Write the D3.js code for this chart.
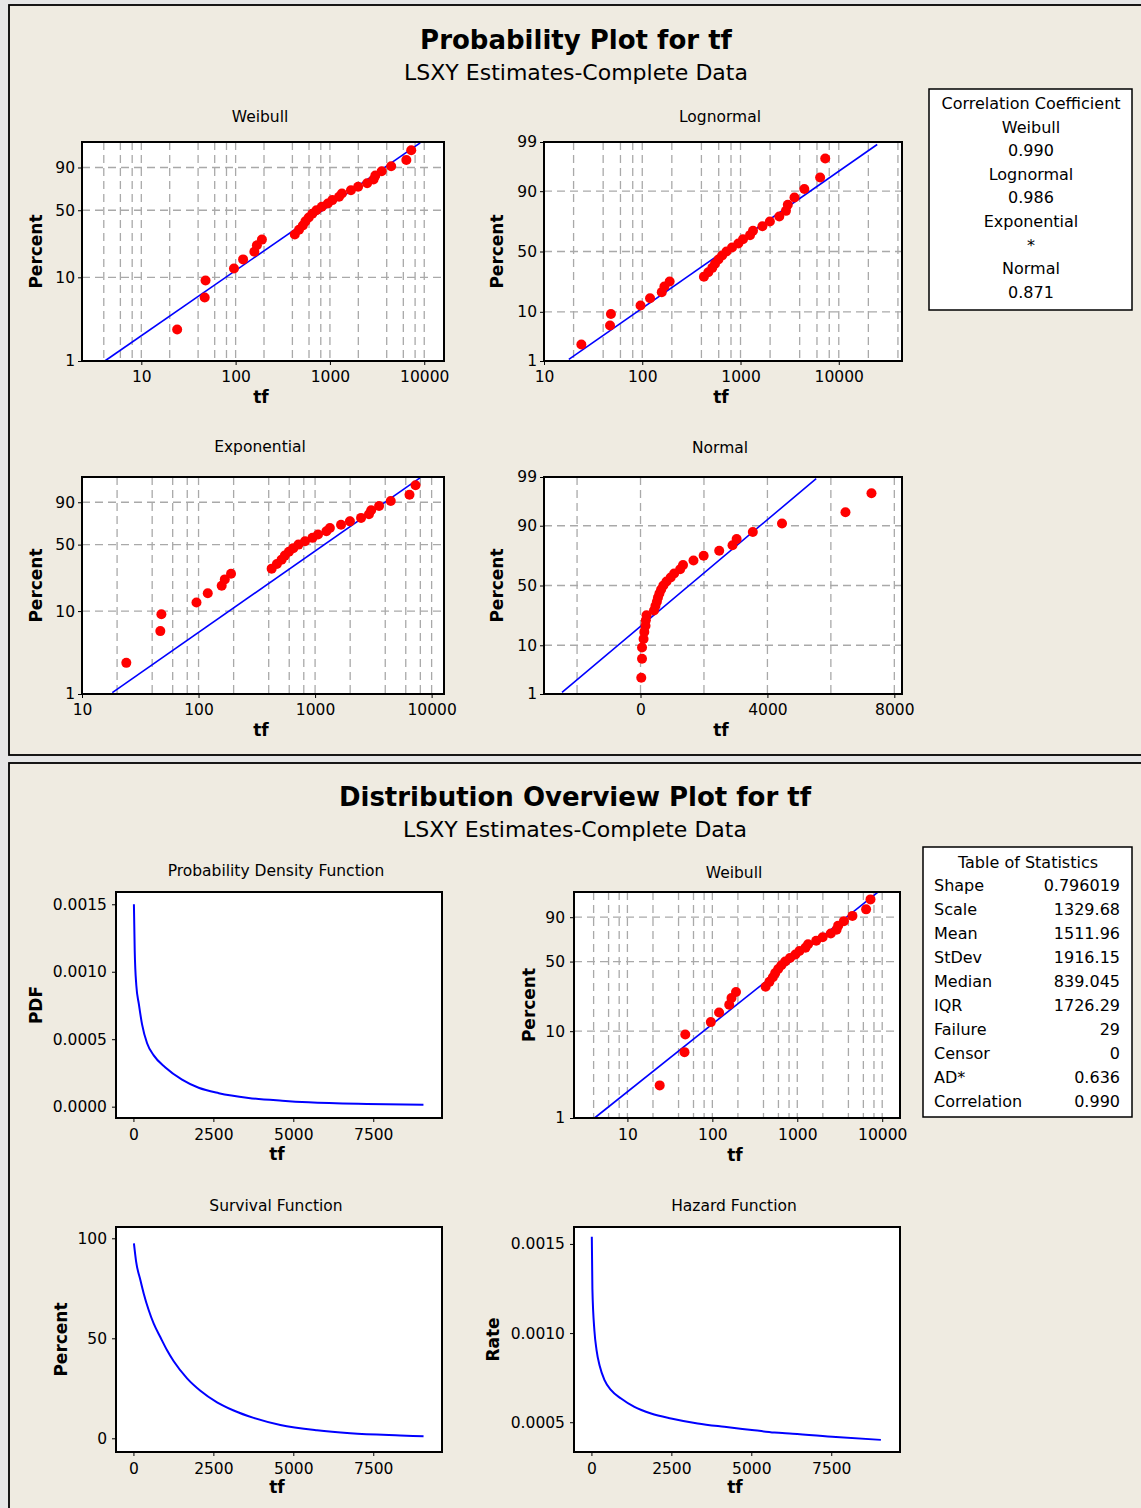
<!DOCTYPE html>
<html lang="en">
<head>
<meta charset="UTF-8">
<title>Probability Plot for tf</title>
<script src="https://d3js.org/d3.v7.min.js"></script>
<style>
  body { margin: 0; background: #e6e6e6; }
  svg text { font-family: "DejaVu Sans", Verdana, sans-serif; fill: #000; }
  .panel { fill: #efebe1; stroke: #000; stroke-width: 1.8px; }
  .plotbg { fill: #fff; }
  .frame { fill: none; stroke: #000; stroke-width: 2px; }
  .grid line { stroke: #a9a9a9; stroke-width: 1.3px; stroke-dasharray: 8,5; }
  .fit { fill: none; stroke: #0000ff; stroke-width: 1.6px; }
  .curve { fill: none; stroke: #0000ff; stroke-width: 2px; }
  .pt { fill: #ff0000; }
  .axis path.domain { display: none; }
  .axis line { stroke: #000; }
  .axis text { font-size: 15.5px; }
  .title { font-size: 26px; font-weight: bold; }
  .subtitle { font-size: 22px; }
  .ptitle { font-size: 15.5px; }
  .alabel { font-size: 17px; font-weight: bold; }
  .box { fill: #fff; stroke: #000; stroke-width: 1.5px; }
  .boxtext { font-size: 16px; }
</style>
</head>
<body>
<svg id="chart" width="1141" height="1508"></svg>
<script>
// failure times (sorted)
const tf = [24, 47, 48, 96, 120, 158, 168, 190, 424, 470, 516, 550, 596, 650, 720, 820, 950, 1060,
            1250, 1340, 1670, 1990, 2480, 2900, 3030, 3540, 4460, 6460, 7280];
// plotted percent for each point
const plotPercent = [2.4, 5.8, 9.2, 12.6, 16.0, 19.4, 22.8, 26.2, 29.6, 33.0, 36.4, 39.8, 43.2, 46.6, 50.0,
                     53.4, 56.8, 60.2, 63.6, 67.0, 70.4, 73.8, 77.2, 80.6, 84.0, 87.4, 90.8, 94.2, 97.6];

// fitted lines, end points [tf, percent]
const weibullFit = [[4.1, 1], [9060, 99]];
const lognormalFit = [[17.9, 1.1], [24600, 98.85]];
const exponentialFit = [[18.2, 1.04], [7940, 99]];
const normalFit = [[-2474, 1.1], [5537, 98.9]];

const corrNames = ["Weibull", "Lognormal", "Exponential", "Normal"];
const corrValues = ["0.990", "0.986", "*", "0.871"];

const statNames = ["Shape", "Scale", "Mean", "StDev", "Median", "IQR", "Failure", "Censor", "AD*", "Correlation"];
const statValues = ["0.796019", "1329.68", "1511.96", "1916.15", "839.045", "1726.29", "29", "0", "0.636", "0.990"];

// overview curves
const pdfX = [15, 40, 90, 170, 270, 427, 635, 1000, 1520, 2040, 2670, 3600, 4650, 5480, 7300, 9070];
const pdfY = [0.00150, 0.00116, 0.00090, 0.00076, 0.00061, 0.00047, 0.00038, 0.00029, 0.00020, 0.00014,
              0.00010, 0.000065, 0.000044, 0.000032, 0.000020, 0.000015];
const survX = [15, 83, 219, 323, 479, 635, 844, 1052, 1260, 1677, 2094, 2615, 3135, 3760, 4594, 5740, 6781, 8344, 9073];
const survY = [97.5, 88.5, 79, 72.3, 64, 57.3, 50.5, 44, 38.5, 30, 23.8, 18.0, 13.9, 10.2, 6.7, 4.0, 2.5, 1.4, 1.0];
const hazX = [12, 30, 95, 160, 260, 410, 615, 927, 1344, 1865, 2490, 3323, 4156, 5094, 5719, 6292, 7646, 9052];
const hazY = [0.00154, 0.00125, 0.00101, 0.000905, 0.000815, 0.000736, 0.00068, 0.000633, 0.000586, 0.000549,
              0.000521, 0.000493, 0.000474, 0.000455, 0.000442, 0.000436, 0.000417, 0.000401];

const svg = d3.select("#chart");

// inverse normal cdf (Acklam) for the normal probability scale
function probit(p) {
    const a = [-39.69683028665376, 220.9460984245205, -275.9285104469687, 138.3577518672690, -30.66479806614716, 2.506628277459239];
    const b = [-54.47609879822406, 161.5858368580409, -155.6989798598866, 66.80131188771972, -13.28068155288572];
    const c = [-0.007784894002430293, -0.3223964580411365, -2.400758277161838, -2.549732539343734, 4.374664141464968, 2.938163982698783];
    const d = [0.007784695709041462, 0.3224671290700398, 2.445134137142996, 3.754408661907416];
    const pl = 0.02425;
    let q, r;
    if (p < pl) {
        q = Math.sqrt(-2 * Math.log(p));
        return (((((c[0]*q+c[1])*q+c[2])*q+c[3])*q+c[4])*q+c[5]) / ((((d[0]*q+d[1])*q+d[2])*q+d[3])*q+1);
    }
    if (p > 1 - pl) {
        q = Math.sqrt(-2 * Math.log(1 - p));
        return -(((((c[0]*q+c[1])*q+c[2])*q+c[3])*q+c[4])*q+c[5]) / ((((d[0]*q+d[1])*q+d[2])*q+d[3])*q+1);
    }
    q = p - 0.5; r = q * q;
    return (((((a[0]*r+a[1])*r+a[2])*r+a[3])*r+a[4])*r+a[5])*q / (((((b[0]*r+b[1])*r+b[2])*r+b[3])*r+b[4])*r+1);
}
const tWeib = p => Math.log(-Math.log(1 - p / 100));
const tNorm = p => probit(p / 100);

// panels
svg.append("rect").attr("class", "panel").attr("x", 9).attr("y", 5).attr("width", 1150).attr("height", 750);
svg.append("rect").attr("class", "panel").attr("x", 9).attr("y", 763).attr("width", 1150).attr("height", 760);

svg.append("text").attr("class", "title").attr("x", 576).attr("y", 49).attr("text-anchor", "middle").text("Probability Plot for tf");
svg.append("text").attr("class", "subtitle").attr("x", 576).attr("y", 80).attr("text-anchor", "middle").text("LSXY Estimates-Complete Data");
svg.append("text").attr("class", "title").attr("x", 575).attr("y", 806).attr("text-anchor", "middle").text("Distribution Overview Plot for tf");
svg.append("text").attr("class", "subtitle").attr("x", 575).attr("y", 837).attr("text-anchor", "middle").text("LSXY Estimates-Complete Data");

function labels(g, o, ylab) {
    const cx = (o.left + o.right) / 2;
    g.append("text").attr("class", "ptitle").attr("x", cx - 3).attr("y", o.titleY).attr("text-anchor", "middle").text(o.title);
    g.append("text").attr("class", "alabel").attr("x", cx - 2).attr("y", o.tfY).attr("text-anchor", "middle").text("tf");
    g.append("text").attr("class", "alabel")
        .attr("transform", `translate(${o.labelX},${(o.top + o.bottom) / 2}) rotate(-90)`)
        .attr("text-anchor", "middle").text(ylab);
}

function probPlot(o) {
    const g = svg.append("g");
    const x = (o.xLog ? d3.scaleLog() : d3.scaleLinear()).domain(o.xDomain).range([o.left, o.right]);
    const y = d3.scaleLinear().domain([o.tf(o.yMin), o.tf(o.yMax)]).range([o.bottom, o.top]);
    const yp = p => y(o.tf(p));

    g.append("rect").attr("class", "plotbg").attr("x", o.left).attr("y", o.top)
        .attr("width", o.right - o.left).attr("height", o.bottom - o.top);

    g.append("g").attr("class", "grid").selectAll("line").data(o.xGrid).join("line")
        .attr("x1", d => x(d)).attr("x2", d => x(d)).attr("y1", o.top).attr("y2", o.bottom);
    g.append("g").attr("class", "grid").selectAll("line").data([10, 50, 90]).join("line")
        .attr("x1", o.left).attr("x2", o.right).attr("y1", d => yp(d)).attr("y2", d => yp(d));

    g.append("path").datum(o.fit).attr("class", "fit")
        .attr("d", d3.line().x(d => x(d[0])).y(d => yp(d[1])));

    g.selectAll("circle").data(tf).join("circle").attr("class", "pt")
        .attr("cx", d => x(d)).attr("cy", (d, i) => yp(plotPercent[i])).attr("r", 5);

    g.append("rect").attr("class", "frame").attr("x", o.left).attr("y", o.top)
        .attr("width", o.right - o.left).attr("height", o.bottom - o.top);

    g.append("g").attr("class", "axis").attr("transform", `translate(0,${o.bottom})`)
        .call(d3.axisBottom(x).tickValues(o.xTicks).tickFormat(d3.format("d")).tickSize(4).tickPadding(o.xPad));
    g.append("g").attr("class", "axis").attr("transform", `translate(${o.left},0)`)
        .call(d3.axisLeft(y).tickValues(o.yTicks.map(o.tf)).tickFormat((d, i) => o.yTicks[i]).tickSize(4).tickPadding(o.yPad));

    labels(g, o, "Percent");
}

const logGrid = [4, 6, 8, 10, 20, 40, 60, 80, 100, 200, 400, 600, 800, 1000, 2000, 4000, 6000, 8000, 10000];
const decades = [10, 100, 1000, 10000];

probPlot({ left: 82, right: 444, top: 142, bottom: 361, xLog: true, xDomain: [2.35, 16200],
    xGrid: logGrid, xTicks: decades, tf: tWeib, yMin: 1, yMax: 99.1, yTicks: [1, 10, 50, 90],
    fit: weibullFit, title: "Weibull", titleY: 122, labelX: 42, tfY: 403, xPad: 6, yPad: 3 });

probPlot({ left: 544, right: 902, top: 142, bottom: 361, xLog: true, xDomain: [10, 44000],
    xGrid: logGrid.filter(v => v > 10).concat([20000, 40000]), xTicks: decades, tf: tNorm, yMin: 1, yMax: 99,
    yTicks: [1, 10, 50, 90, 99], fit: lognormalFit, title: "Lognormal", titleY: 122, labelX: 503, tfY: 403, xPad: 6, yPad: 3 });

probPlot({ left: 82, right: 444, top: 477, bottom: 694, xLog: true, xDomain: [10, 12770],
    xGrid: logGrid.filter(v => v > 10), xTicks: decades, tf: tWeib, yMin: 1, yMax: 99.1, yTicks: [1, 10, 50, 90],
    fit: exponentialFit, title: "Exponential", titleY: 452, labelX: 42, tfY: 736, xPad: 6, yPad: 3 });

probPlot({ left: 544, right: 902, top: 477, bottom: 694, xLog: false, xDomain: [-3042, 8242],
    xGrid: [-2000, 0, 2000, 4000, 6000, 8000], xTicks: [0, 4000, 8000], tf: tNorm, yMin: 1, yMax: 99,
    yTicks: [1, 10, 50, 90, 99], fit: normalFit, title: "Normal", titleY: 453, labelX: 503, tfY: 736, xPad: 6, yPad: 3 });

probPlot({ left: 574, right: 900, top: 892, bottom: 1118, xLog: true, xDomain: [2.35, 16200],
    xGrid: logGrid, xTicks: decades, tf: tWeib, yMin: 1, yMax: 98.95, yTicks: [1, 10, 50, 90],
    fit: weibullFit, title: "Weibull", titleY: 878, labelX: 535, tfY: 1161, xPad: 7, yPad: 5 });

function curvePlot(o) {
    const g = svg.append("g");
    const x = d3.scaleLinear().domain([-545, 9650]).range([o.left, o.right]);
    const y = d3.scaleLinear().domain(o.yDomain).range([o.bottom, o.top]);

    g.append("rect").attr("class", "plotbg").attr("x", o.left).attr("y", o.top)
        .attr("width", o.right - o.left).attr("height", o.bottom - o.top);

    g.append("path").datum(d3.zip(o.xs, o.ys)).attr("class", "curve")
        .attr("d", d3.line().curve(d3.curveMonotoneX).x(d => x(d[0])).y(d => y(d[1])));

    g.append("rect").attr("class", "frame").attr("x", o.left).attr("y", o.top)
        .attr("width", o.right - o.left).attr("height", o.bottom - o.top);

    g.append("g").attr("class", "axis").attr("transform", `translate(0,${o.bottom})`)
        .call(d3.axisBottom(x).tickValues([0, 2500, 5000, 7500]).tickFormat(d3.format("d")).tickSize(4).tickPadding(7));
    g.append("g").attr("class", "axis").attr("transform", `translate(${o.left},0)`)
        .call(d3.axisLeft(y).tickValues(o.yTicks).tickFormat(d3.format(o.fmt)).tickSize(4).tickPadding(5));

    labels(g, o, o.ylab);
}

curvePlot({ left: 116, right: 442, top: 892, bottom: 1118, xs: pdfX, ys: pdfY,
    yDomain: [-0.000084, 0.001591], yTicks: [0, 0.0005, 0.001, 0.0015], fmt: ".4f",
    title: "Probability  Density  Function", titleY: 876, ylab: "PDF", labelX: 42, tfY: 1160 });

curvePlot({ left: 116, right: 442, top: 1227, bottom: 1452, xs: survX, ys: survY,
    yDomain: [-6.85, 105.65], yTicks: [0, 50, 100], fmt: "d",
    title: "Survival Function", titleY: 1211, ylab: "Percent", labelX: 67, tfY: 1493 });

curvePlot({ left: 574, right: 900, top: 1227, bottom: 1452, xs: hazX, ys: hazY,
    yDomain: [0.000333, 0.001595], yTicks: [0.0005, 0.001, 0.0015], fmt: ".4f",
    title: "Hazard Function", titleY: 1211, ylab: "Rate", labelX: 499, tfY: 1493 });

// correlation coefficient box
const corrLines = ["Correlation Coefficient"];
corrNames.forEach((n, i) => { corrLines.push(n); corrLines.push(corrValues[i]); });
svg.append("rect").attr("class", "box").attr("x", 929).attr("y", 89).attr("width", 203).attr("height", 221);
svg.append("g").selectAll("text").data(corrLines).join("text").attr("class", "boxtext")
    .attr("x", 1031).attr("y", (d, i) => 109 + i * 23.6).attr("text-anchor", "middle").text(d => d);

// table of statistics box
svg.append("rect").attr("class", "box").attr("x", 923).attr("y", 847).attr("width", 209).attr("height", 270);
svg.append("text").attr("class", "boxtext").attr("x", 1028).attr("y", 868).attr("text-anchor", "middle").text("Table of Statistics");
svg.append("g").selectAll("text").data(statNames).join("text").attr("class", "boxtext")
    .attr("x", 934).attr("y", (d, i) => 891 + i * 24.05).text(d => d);
svg.append("g").selectAll("text").data(statValues).join("text").attr("class", "boxtext")
    .attr("x", 1120).attr("y", (d, i) => 891 + i * 24.05).attr("text-anchor", "end").text(d => d);
</script>
</body>
</html>
